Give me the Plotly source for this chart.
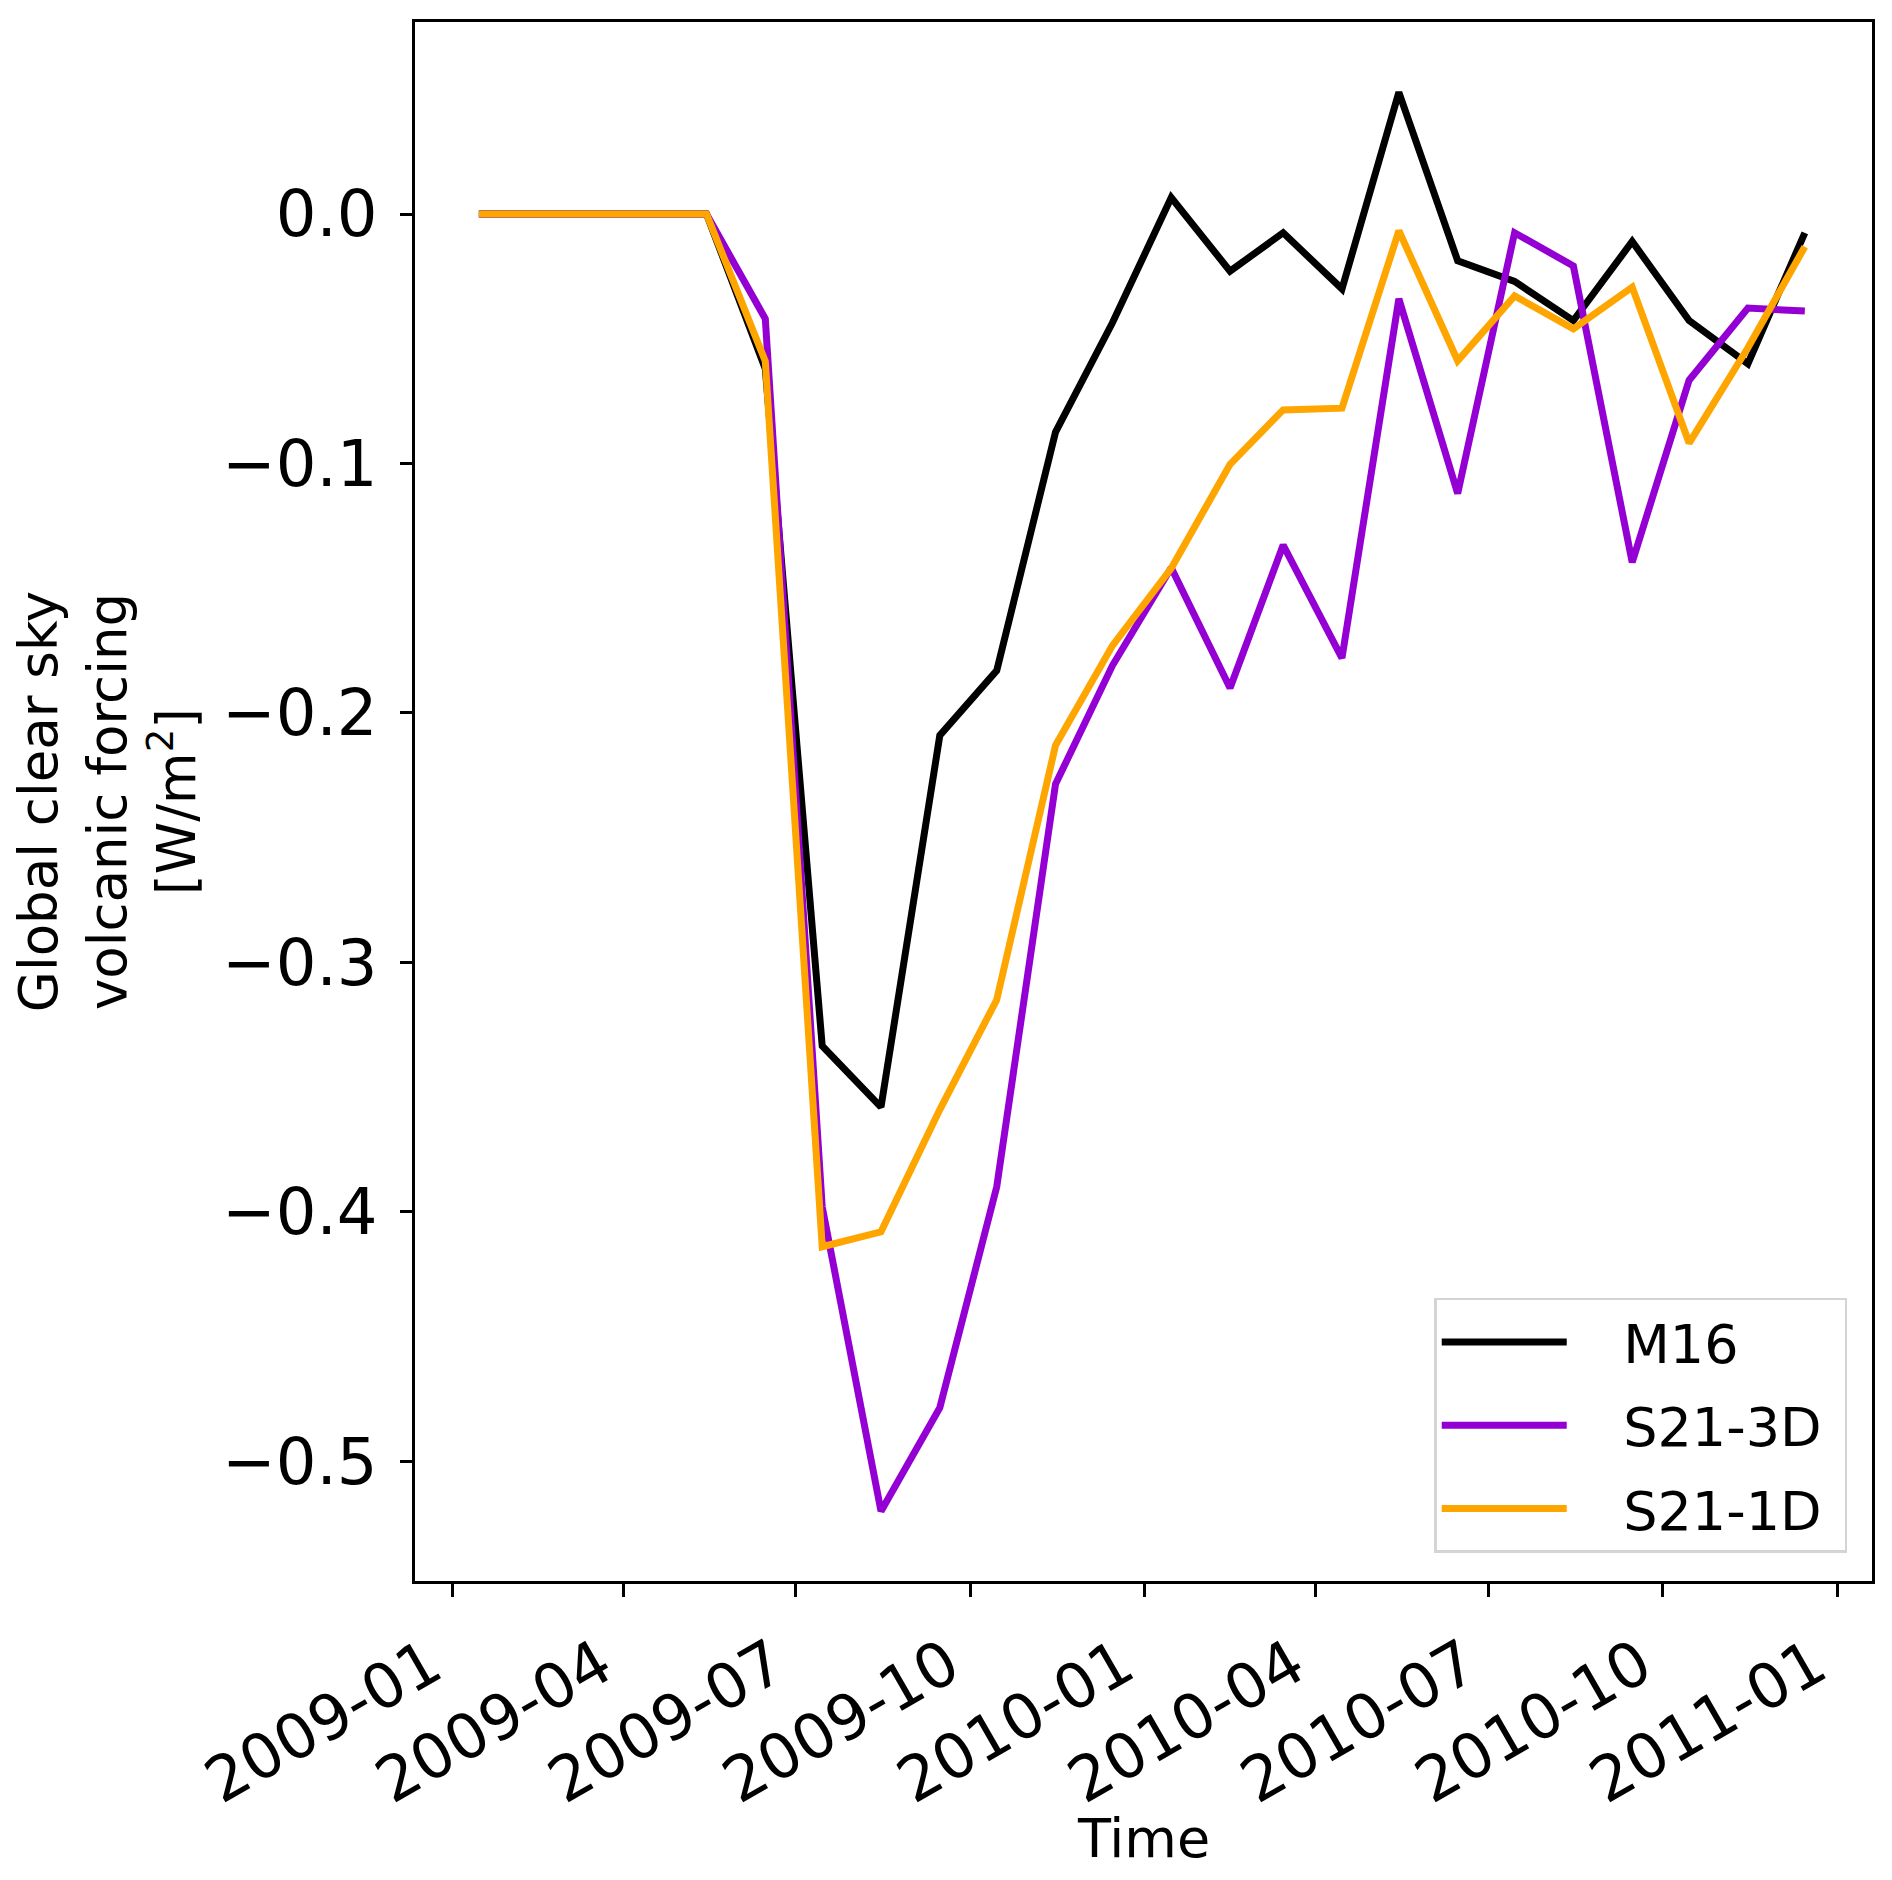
import plotly.graph_objects as go

dates = [
    "2009-01-15", "2009-02-15", "2009-03-15", "2009-04-15", "2009-05-15", "2009-06-15",
    "2009-07-15", "2009-08-15", "2009-09-15", "2009-10-15", "2009-11-15", "2009-12-15",
    "2010-01-15", "2010-02-15", "2010-03-15", "2010-04-15", "2010-05-15", "2010-06-15",
    "2010-07-15", "2010-08-15", "2010-09-15", "2010-10-15", "2010-11-15", "2010-12-15",
]

m16 = [0.0, 0.0, 0.0, 0.0, 0.0, -0.062,
       -0.3335, -0.358, -0.209, -0.183, -0.0874, -0.0436,
       0.0066, -0.0229, -0.0075, -0.030, 0.0488, -0.0187,
       -0.027, -0.0427, -0.011, -0.0427, -0.060, -0.0075]

s21_3d = [0.0, 0.0, 0.0, 0.0, 0.0, -0.042,
          -0.398, -0.520, -0.4785, -0.390, -0.2285, -0.181,
          -0.1418, -0.190, -0.1327, -0.178, -0.034, -0.112,
          -0.0075, -0.0208, -0.1396, -0.0666, -0.0377, -0.0389]

s21_1d = [0.0, 0.0, 0.0, 0.0, 0.0, -0.059,
          -0.414, -0.408, -0.359, -0.315, -0.213, -0.173,
          -0.142, -0.1003, -0.0785, -0.0778, -0.0067, -0.0588,
          -0.0328, -0.046, -0.0293, -0.0918, -0.0536, -0.0131]

series_names = ["M16", "S21-3D", "S21-1D"]
series_colors = ["#000000", "#9400D3", "#FFA500"]

y_tickvals = [0.0, -0.1, -0.2, -0.3, -0.4, -0.5]
y_ticktext = ["0.0", "\u22120.1", "\u22120.2", "\u22120.3", "\u22120.4", "\u22120.5"]

x_tickvals = ["2009-01-01", "2009-04-01", "2009-07-01", "2009-10-01", "2010-01-01",
              "2010-04-01", "2010-07-01", "2010-10-01", "2011-01-01"]
x_ticktext = ["2009-01", "2009-04", "2009-07", "2009-10", "2010-01",
              "2010-04", "2010-07", "2010-10", "2011-01"]

FONT = "DejaVu Sans"
NB = "\u00a0"

fig = go.Figure()
for name, vals, col in zip(series_names, [m16, s21_3d, s21_1d], series_colors):
    fig.add_trace(go.Scatter(x=dates, y=vals, mode="lines",
                             name=NB * 3 + name + NB,
                             legendgroup=name,
                             line=dict(color=col, width=7)))

fig.update_layout(
    width=1892, height=1880,
    margin=dict(l=407, r=28, t=14, b=307, autoexpand=False),
    paper_bgcolor="white", plot_bgcolor="white",
    font=dict(family=FONT, size=54, color="black"),
    showlegend=True,
    legend=dict(
        x=0.983, y=0.018, xanchor="right", yanchor="bottom",
        bgcolor="white", bordercolor="#d4d4d4", borderwidth=2.5,
        font=dict(family=FONT, size=54, color="black"),
        itemwidth=125,
        tracegroupgap=10,
        traceorder="grouped",
    ),
    annotations=[dict(
        text="Time", xref="paper", yref="paper", x=0.5, y=-0.165,
        xanchor="center", yanchor="middle", showarrow=False,
        font=dict(family=FONT, size=54, color="black"),
    )],
)

fig.update_xaxes(
    type="date",
    range=["2008-12-12 08:00", "2011-01-19 10:00"],
    tickvals=x_tickvals, ticktext=x_ticktext,
    tickangle=-30,
    tickfont=dict(family=FONT, size=62, color="black"),
    ticks="outside", ticklen=13, tickwidth=2.5, tickcolor="black",
    ticklabelshift=-22, ticklabelstandoff=8,
    showline=True, linecolor="black", linewidth=2.5, mirror=True,
    showgrid=False, zeroline=False,
)

fig.update_yaxes(
    range=[-0.548, 0.077],
    tickvals=y_tickvals, ticktext=y_ticktext,
    tickfont=dict(family=FONT, size=64, color="black"),
    ticks="outside", ticklen=12, tickwidth=2.5, tickcolor="black",
    ticklabelstandoff=10,
    showline=True, linecolor="black", linewidth=2.5, mirror=True,
    showgrid=False, zeroline=False,
    title=dict(text="Global clear sky<br>volcanic forcing<br>[W/m<sup>2</sup>]",
               font=dict(family=FONT, size=53, color="black"), standoff=24),
)

fig.write_html("out.html")
